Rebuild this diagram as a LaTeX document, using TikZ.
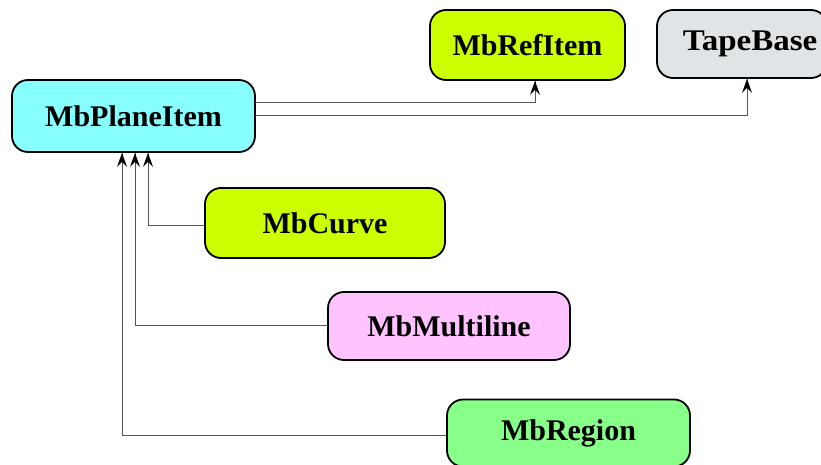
\documentclass[tikz,border=0pt]{standalone}
\usepackage{fontspec}
\setmainfont{Liberation Serif}
\usetikzlibrary{arrows.meta}
\definecolor{cyanfill}{HTML}{88FFFF}
\definecolor{limefill}{HTML}{CCFF00}
\definecolor{grayfill}{HTML}{E1E4E6}
\definecolor{pinkfill}{HTML}{FFC4FF}
\definecolor{greenfill}{HTML}{88FF88}
\definecolor{linkgray}{HTML}{555555}
\tikzset{
  cls/.style={draw=black,line width=1.8pt,rounded corners=16pt,
    font=\fontsize{30}{32}\selectfont\bfseries,inner sep=0pt},
  link/.style={draw=linkgray,line width=1pt},
  uptip/.pic={\fill[black] (0,0) -- (-5,-14) -- (0,-9) -- (5,-14) -- cycle;}}
\begin{document}
\begin{tikzpicture}[x=1pt,y=1pt]
\useasboundingbox (0,0) rectangle (821,-465);
\node[cls,fill=cyanfill,minimum width=243pt,minimum height=72pt] (plane) at (133.5,-116) {MbPlaneItem};
\node[cls,fill=limefill,minimum width=195pt,minimum height=70pt] (ref) at (527.5,-45) {MbRefItem};
\node[cls,fill=grayfill,minimum width=170pt,minimum height=68pt] (tape) at (742,-44) {\hspace*{16pt}\scalebox{1.1}[1]{TapeBase}};
\node[cls,fill=limefill,minimum width=240pt,minimum height=70pt] (curve) at (325,-223) {MbCurve};
\node[cls,fill=pinkfill,minimum width=242pt,minimum height=68pt] (multi) at (449,-326) {MbMultiline};
\node[cls,fill=greenfill,minimum width=243pt,minimum height=67pt] (region) at (568.5,-433) {MbRegion};
\coordinate (p1) at (255,-103);
\coordinate (p2) at (255,-116);
\coordinate (t1) at (ref.south -| 535,0);
\coordinate (t2) at (tape.south -| 747,0);
\coordinate (t3) at (plane.south -| 148,0);
\coordinate (t4) at (plane.south -| 135,0);
\coordinate (t5) at (plane.south -| 122,0);
\draw[link] (p1) -| (t1);
\draw[link] (p2) -| (t2);
\draw[link] (curve.west |- 0,-225) -| (t3);
\draw[link] (multi.west |- 0,-325) -| (t4);
\draw[link] (region.west |- 0,-435) -| (t5);
\foreach \t in {t1,t2,t3,t4,t5} {\pic at (\t) {uptip};}
\end{tikzpicture}
\end{document}
